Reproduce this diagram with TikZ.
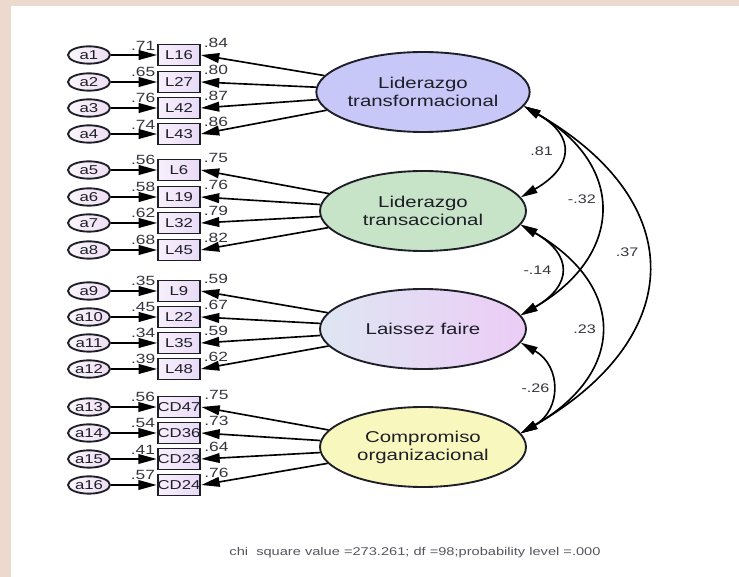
\documentclass[tikz,border=0pt]{standalone}
\usepackage{fontspec}
\setmainfont{Liberation Sans}[FakeStretch=1.3]
\usetikzlibrary{calc,arrows.meta,shapes.geometric}

\definecolor{paper}{RGB}{236,218,206}
\definecolor{transf}{RGB}{200,200,248}
\definecolor{transa}{RGB}{200,228,200}
\definecolor{laisL}{RGB}{222,230,242}
\definecolor{laisR}{RGB}{236,204,246}
\definecolor{compr}{RGB}{248,248,190}
\definecolor{boxL}{RGB}{248,240,252}
\definecolor{boxR}{RGB}{232,218,246}
\definecolor{errL}{RGB}{250,246,250}
\definecolor{errR}{RGB}{238,222,244}
\definecolor{ink}{RGB}{30,30,40}

\def\errnode{\node[errvar]}
\def\obsnode{\node[obsvar]}
\def\latnode{\node[latvar]}
\def\drawpath{\draw[line width=1.4pt,-{Triangle[length=5.5mm,width=2.9mm]}]}
\def\drawcov{\draw[line width=1.4pt,{Triangle[length=5mm,width=2.6mm]}-{Triangle[length=5mm,width=2.6mm]}]}

\tikzset{
  errvar/.style={ellipse,draw=ink,line width=1.6pt,left color=errL,right color=errR,
    minimum width=12.6mm,minimum height=5.2mm,inner sep=0pt,text=ink,
    font=\fontsize{11}{12}\selectfont},
  obsvar/.style={rectangle,draw=ink,line width=1.6pt,left color=boxL,right color=boxR,
    minimum width=12.6mm,minimum height=6.3mm,inner sep=0pt,text=ink,
    font=\fontsize{11}{12}\selectfont},
  latvar/.style={ellipse,draw=ink,line width=1.6pt,minimum width=61.8mm,
    minimum height=24mm,inner sep=0pt,align=center,text=ink,
    font=\fontsize{13.4}{15.4}\selectfont},
  wlbl/.style={inner sep=0pt,text=ink!90,font=\fontsize{11.4}{12}\selectfont},
  covlbl/.style={inner sep=1pt,text=ink!90,font=\fontsize{10.6}{11}\selectfont},
}

\begin{document}
\begin{tikzpicture}[x=0.3mm,y=0.3mm]
% sheet on the paper background
\fill[paper] (0,-577) rectangle (739,0);
\fill[white] (11,-577) rectangle (739,-6);
\useasboundingbox (0,-577) rectangle (739,0);

% ---------- the four factors
\latnode[fill=transf] (LT) at (423,-92) {Liderazgo\\transformacional};
\latnode[fill=transa] (LTr) at (423,-211) {Liderazgo\\transaccional};
\latnode[left color=laisL,right color=laisR] (LF) at (423,-329) {Laissez faire};
\latnode[fill=compr] (CO) at (423,-447) {Compromiso\\organizacional};

% ---------- Liderazgo transformacional
\errnode (a1) at (89,-55) {a1};
\errnode (a2) at (89,-82) {a2};
\errnode (a3) at (89,-108) {a3};
\errnode (a4) at (89,-134) {a4};
\obsnode (L16) at (179,-55) {L16};
\obsnode (L27) at (179,-82) {L27};
\obsnode (L42) at (179,-108) {L42};
\obsnode (L43) at (179,-134) {L43};

% ---------- Liderazgo transaccional
\errnode (a5) at (89,-170) {a5};
\errnode (a6) at (89,-197) {a6};
\errnode (a7) at (89,-223) {a7};
\errnode (a8) at (89,-250) {a8};
\obsnode (L6) at (179,-170) {L6};
\obsnode (L19) at (179,-197) {L19};
\obsnode (L32) at (179,-223) {L32};
\obsnode (L45) at (179,-250) {L45};

% ---------- Laissez faire
\errnode (a9) at (89,-291) {a9};
\errnode (a10) at (89,-317) {a10};
\errnode (a11) at (89,-343) {a11};
\errnode (a12) at (89,-369) {a12};
\obsnode (L9) at (179,-291) {L9};
\obsnode (L22) at (179,-317) {L22};
\obsnode (L35) at (179,-343) {L35};
\obsnode (L48) at (179,-369) {L48};

% ---------- Compromiso organizacional
\errnode (a13) at (89,-407) {a13};
\errnode (a14) at (89,-433) {a14};
\errnode (a15) at (89,-459) {a15};
\errnode (a16) at (89,-485) {a16};
\obsnode (CD47) at (179,-407) {CD47};
\obsnode (CD36) at (179,-433) {CD36};
\obsnode (CD23) at (179,-459) {CD23};
\obsnode (CD24) at (179,-485) {CD24};

% error terms into the items
\drawpath (a1) -- node[wlbl,pos=0.7,above=3.5pt] {.71} (L16);
\drawpath (a2) -- node[wlbl,pos=0.7,above=3.5pt] {.65} (L27);
\drawpath (a3) -- node[wlbl,pos=0.7,above=3.5pt] {.76} (L42);
\drawpath (a4) -- node[wlbl,pos=0.7,above=3.5pt] {.74} (L43);
\drawpath (a5) -- node[wlbl,pos=0.7,above=3.5pt] {.56} (L6);
\drawpath (a6) -- node[wlbl,pos=0.7,above=3.5pt] {.58} (L19);
\drawpath (a7) -- node[wlbl,pos=0.7,above=3.5pt] {.62} (L32);
\drawpath (a8) -- node[wlbl,pos=0.7,above=3.5pt] {.68} (L45);
\drawpath (a9) -- node[wlbl,pos=0.7,above=3.5pt] {.35} (L9);
\drawpath (a10) -- node[wlbl,pos=0.7,above=3.5pt] {.45} (L22);
\drawpath (a11) -- node[wlbl,pos=0.7,above=3.5pt] {.34} (L35);
\drawpath (a12) -- node[wlbl,pos=0.7,above=3.5pt] {.39} (L48);
\drawpath (a13) -- node[wlbl,pos=0.7,above=3.5pt] {.56} (CD47);
\drawpath (a14) -- node[wlbl,pos=0.7,above=3.5pt] {.54} (CD36);
\drawpath (a15) -- node[wlbl,pos=0.7,above=3.5pt] {.41} (CD23);
\drawpath (a16) -- node[wlbl,pos=0.7,above=3.5pt] {.57} (CD24);

% loadings, factor to item
\drawpath (LT) -- (L16.east);
\drawpath (LT) -- (L27.east);
\drawpath (LT) -- (L42.east);
\drawpath (LT) -- (L43.east);
\drawpath (LTr) -- (L6.east);
\drawpath (LTr) -- (L19.east);
\drawpath (LTr) -- (L32.east);
\drawpath (LTr) -- (L45.east);
\drawpath (LF) -- (L9.east);
\drawpath (LF) -- (L22.east);
\drawpath (LF) -- (L35.east);
\drawpath (LF) -- (L48.east);
\drawpath (CO) -- (CD47.east);
\drawpath (CO) -- (CD36.east);
\drawpath (CO) -- (CD23.east);
\drawpath (CO) -- (CD24.east);

% loading values over the item boxes
\node[wlbl] (r16) at ($ (L16.north east) + (15,1) $) {.84};
\node[wlbl] (r27) at ($ (L27.north east) + (15,1) $) {.80};
\node[wlbl] (r42) at ($ (L42.north east) + (15,1) $) {.87};
\node[wlbl] (r43) at ($ (L43.north east) + (15,1) $) {.86};
\node[wlbl] (r6) at ($ (L6.north east) + (15,1) $) {.75};
\node[wlbl] (r19) at ($ (L19.north east) + (15,1) $) {.76};
\node[wlbl] (r32) at ($ (L32.north east) + (15,1) $) {.79};
\node[wlbl] (r45) at ($ (L45.north east) + (15,1) $) {.82};
\node[wlbl] (r9) at ($ (L9.north east) + (15,1) $) {.59};
\node[wlbl] (r22) at ($ (L22.north east) + (15,1) $) {.67};
\node[wlbl] (r35) at ($ (L35.north east) + (15,1) $) {.59};
\node[wlbl] (r48) at ($ (L48.north east) + (15,1) $) {.62};
\node[wlbl] (r47) at ($ (CD47.north east) + (15,1) $) {.75};
\node[wlbl] (r36) at ($ (CD36.north east) + (15,1) $) {.73};
\node[wlbl] (r23) at ($ (CD23.north east) + (15,1) $) {.64};
\node[wlbl] (r24) at ($ (CD24.north east) + (15,1) $) {.76};

% correlations between the factors
\drawcov (LT.-8) to[out=-30,in=30,looseness=1.7] node[covlbl,left=6pt] {.81} (LTr.8);
\drawcov (LT.-8) to[out=-30,in=30,looseness=1.45] node[covlbl,pos=0.45,left=1pt] {-.32} (LF.8);
\drawcov (LT.-8) to[out=-30,in=30,looseness=1.5] node[covlbl,pos=0.45,left=5pt] {.37} (CO.8);
\drawcov (LTr.-8) to[out=-30,in=30,looseness=1.7] node[covlbl,left=5.5pt] {-.14} (LF.8);
\drawcov (LTr.-8) to[out=-30,in=30,looseness=1.5] node[covlbl,left=2pt] {.23} (CO.8);
\drawcov (LF.-8) to[out=-30,in=30,looseness=1.33] node[covlbl,left=0pt] {-.26} (CO.8);

\node[text=ink!75,font=\fontsize{9.6}{11}\selectfont] (fit) at (415,-553)
  {chi~ square value =273.261; df =98;probability level =.000};
\end{tikzpicture}
\end{document}
